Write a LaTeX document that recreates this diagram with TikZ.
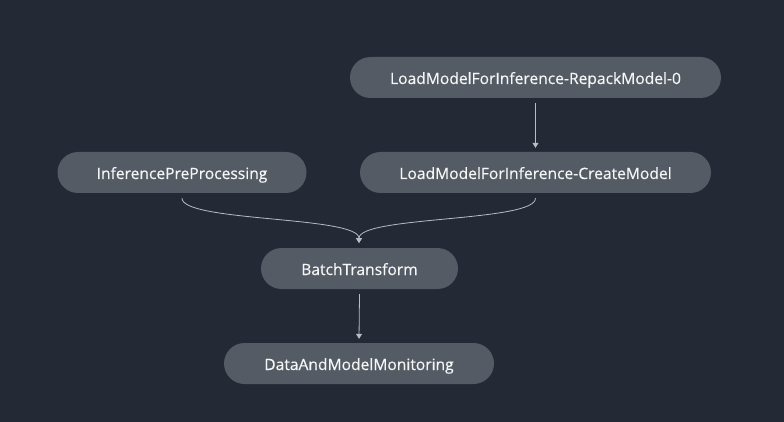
\documentclass[tikz,border=0pt]{standalone}
\usepackage{fontspec}
\setmainfont{Open Sans}[BoldFont=Open Sans, BoldFeatures={FakeBold=0.4}]
\usetikzlibrary{arrows.meta}
\definecolor{bgc}{HTML}{232A35}
\definecolor{nodec}{HTML}{545B64}
\definecolor{txtc}{HTML}{F5F6F6}
\definecolor{linec}{HTML}{B8BDC4}
\tikzset{
  pill/.style={fill=nodec, rounded corners=20.5pt, minimum height=41pt, text=txtc, font=\fontsize{15.6}{18}\selectfont\bfseries, inner sep=0pt, text height=13pt, text depth=0pt},
  conn/.style={draw=linec, line width=0.8pt, -{Triangle[width=6pt,length=5pt]}}
}
\begin{document}
\begin{tikzpicture}[x=1pt,y=-1pt]
\fill[bgc] (0,0) rectangle (784,422);
\useasboundingbox (0,0) rectangle (784,422);
\node[pill, minimum width=371pt] (repack) at (535.5,77.5) {LoadModelForInference-RepackModel-0};
\node[pill, minimum width=351pt] (create) at (535.5,172.5) {LoadModelForInference-CreateModel};
\node[pill, minimum width=249pt] (pre) at (182,172.5) {InferencePreProcessing};
\node[pill, minimum width=197pt] (batch) at (359.5,268.5) {BatchTransform};
\node[pill, minimum width=270pt] (monitor) at (359,363.5) {DataAndModelMonitoring};
\coordinate (m1) at (359,243);
\draw[conn] ([yshift=-5pt]repack.south) -- ([yshift=4pt]create.north);
\draw[conn] ([yshift=-5pt]batch.south) -- ([yshift=4pt]monitor.north);
\draw[conn] ([yshift=-5pt]pre.south) .. controls (182,222) and (359,216) .. (m1);
\draw[conn] ([yshift=-5pt]create.south) .. controls (536,222) and (359,216) .. (m1);
\end{tikzpicture}
\end{document}
